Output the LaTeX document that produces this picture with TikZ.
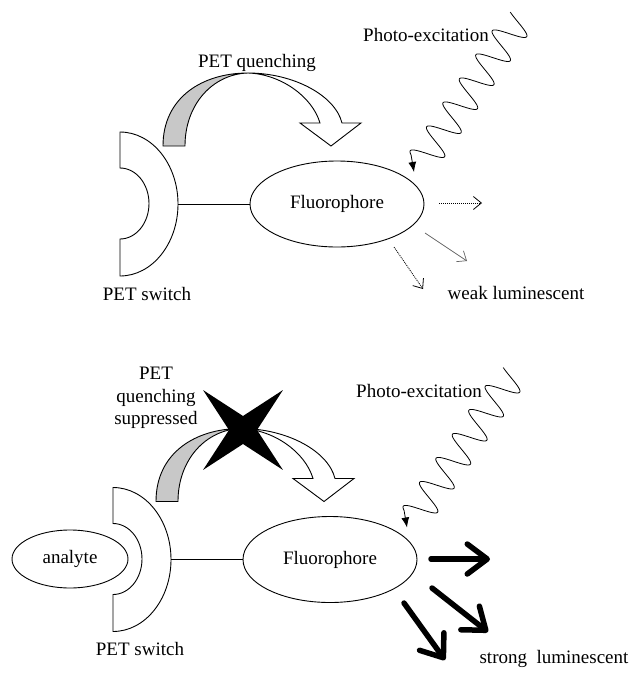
\documentclass[tikz,border=0pt]{standalone}
\usepackage{fontspec}
\setmainfont{Liberation Serif}
\usetikzlibrary{shapes.geometric,arrows.meta}
\definecolor{qgrey}{RGB}{200,200,200}
\newcommand\petunit[1]{%
  % receptor (PET switch)
  \draw[fill=white] (120,132) -- (120,168)
     arc[start angle=-90,end angle=90,x radius=29,y radius=35.5]
     -- (120,276)
     arc[start angle=90,end angle=-90,x radius=58,y radius=72] -- cycle;
  \coordinate (rec#1) at (178,204);
  \node[oval, minimum width=174pt, minimum height=86pt] (fluo#1) at (337,204) {Fluorophore};
  \draw (rec#1) -- (fluo#1.west);
  \node[lbl] (sw#1) at (147,293.5) {PET switch};
  % curved quenching arrow
  \draw[fill=qgrey] (163,146) .. controls (163,97) and (203,73) .. (248,73)
     .. controls (213,74) and (185,104) .. (185,146) -- cycle;
  \draw[fill=white] (248,73) .. controls (293,73) and (335,95) .. (342,123)
     -- (361,123) -- (331,146) -- (300,123) -- (320,123)
     .. controls (312,96) and (280,74) .. (248,73) -- cycle;
  % photo-excitation wave
  \node[lbl] (photo#1) at (426,35) {Photo-excitation};
  \coordinate (wtip#1) at (414,172);
  \draw[line width=0.8pt,-{Latex[length=10pt,width=8pt]}]
     plot[samples=220,domain=-0.13:5.85,variable=\t]
       ({517.7-16.41*\t+13.12*sin(360*\t)},{21.7+24.0*\t+8.97*sin(360*\t)})
     -- (wtip#1);
}
\begin{document}
\begin{tikzpicture}[x=1pt,y=-1pt,line width=0.9pt,
  lbl/.style={font=\fontsize{19}{22.5}\selectfont, inner sep=0pt},
  oval/.style={draw, ellipse, inner sep=0pt, fill=white, font=\fontsize{19}{22.5}\selectfont},
  weakarrow/.style={line width=0.8pt, -{Straight Barb[length=8pt,width=13pt]}},
  strongarrow/.style={line width=5.5pt, line cap=round, line join=round,
     -{Straight Barb[length=20pt,width=30pt,line cap=round,line join=round]}}]
\fill[white] (0,0) rectangle (631,673);
\useasboundingbox (0,0) rectangle (631,673);

% ---------------- top panel ----------------
\petunit{A}
\node[lbl] (quench) at (257,63) {PET quenching};
\coordinate (w1a) at (439,203); \coordinate (w1b) at (482,203);
\coordinate (w2a) at (425,233); \coordinate (w2b) at (467,261);
\coordinate (w3a) at (394,247); \coordinate (w3b) at (423,289);
\draw[weakarrow, dash pattern=on 1pt off 1pt] (w1a) -- (w1b);
\draw[weakarrow, draw=black!60, line width=0.7pt] (w2a) -- (w2b);
\draw[weakarrow, dash pattern=on 1pt off 1pt] (w3a) -- (w3b);
\node[lbl] (weak) at (516,293) {weak luminescent};

% ---------------- bottom panel ----------------
\begin{scope}[shift={(-7,355.5)}]
  \petunit{B}
\end{scope}
\node[oval, minimum width=116pt, minimum height=58pt] (analyte) at (70,559) {analyte};
\node[lbl, align=center] (supp) at (156,398) {PET\\quenching\\suppressed};
\fill (243,430) +(45:56.5) -- +(90:14) -- +(135:56.5) -- +(180:14)
   -- +(225:56.5) -- +(270:14) -- +(315:56.5) -- +(0:14) -- cycle;
\coordinate (s1a) at (431,559); \coordinate (s1b) at (490,559);
\coordinate (s2a) at (432,588); \coordinate (s2b) at (488,632);
\coordinate (s3a) at (404,603); \coordinate (s3b) at (445,660);
\draw[strongarrow] (s1a) -- (s1b);
\draw[strongarrow] (s2a) -- (s2b);
\draw[strongarrow] (s3a) -- (s3b);
\node[lbl] (strong) at (554,659) {strong\ \ luminescent};
\end{tikzpicture}
\end{document}
